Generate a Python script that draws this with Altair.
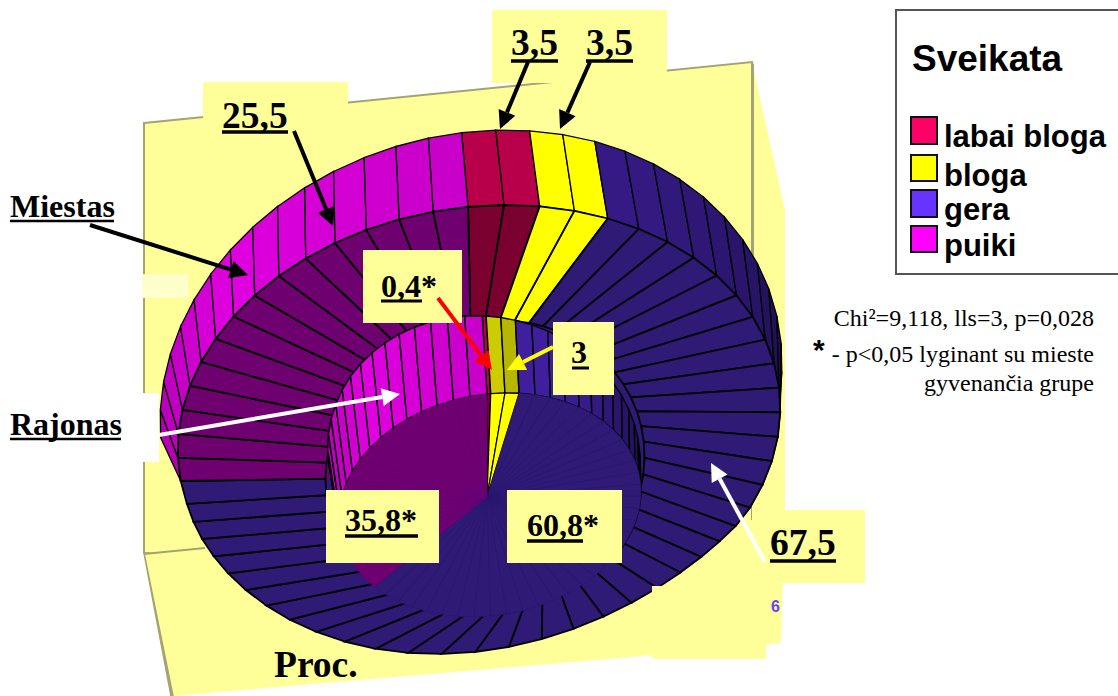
import numpy as np
import pandas as pd
import altair as alt

# Health ratings and their shares (percent) for the two residence groups
categories = ["labai bloga", "bloga", "gera", "puiki"]
city_values = [3.5, 3.5, 67.5, 25.5]
rural_values = [0.4, 3.0, 60.8, 35.8]
base_colors = ["#ff0066", "#ffff00", "#6633ff", "#ff00ff"]
floor_colors = ["#7a0030", "#ffff00", "#2f1a75", "#6f0070"]

STEP = 1.75  # percent covered by one facet of the ring


def ellipse(t, cx, cy, rx, ry, sx, sy=0.0):
    r = np.radians(t)
    return [float(cx + rx * np.sin(r) + sx * np.cos(r)),
            float(cy - ry * np.cos(r) + sy * np.sin(r))]


def rim(t):
    return ellipse(t, 471, 392, 309, 262, 35)


def floor_outer(t):
    # The upper half sits inside the rim; the lower half follows the rim outline
    upper = ellipse(t + 1.5 + 5 * np.sin(np.radians(t)), 479, 429, 300, 224, 28)
    lower = rim(t)
    w = float(np.clip((-np.cos(np.radians(t)) - 0.3) / 0.7, 0, 1))
    return [upper[0] * (1 - w) + lower[0] * w, upper[1] * (1 - w) + lower[1] * w]


def floor_inner(t):
    return ellipse(t - 3 - 9 * np.sin(np.radians(t)), 485, 468, 159, 148, 13)


def inner_rim(t):
    return ellipse(t, 484, 455, 155, 137, 20, 25)


def disk(t):
    return ellipse(t, 490, 505, 150, 112, 18)


def shade(hex_color, f):
    c = [int(hex_color[i:i + 2], 16) for i in (1, 3, 5)]
    return "#%02x%02x%02x" % tuple(min(255, int(v * f)) for v in c)


def facets(values, start):
    """Split each share into facets and return (category index, t0, t1)."""
    out = []
    t = start
    for i, v in enumerate(values):
        n = max(1, round(v / STEP))
        span = v * 3.6 / n
        for _ in range(n):
            out.append((i, t, t + span))
            t += span
    return out


def norm(t):
    return (t + 180) % 360 - 180


def poly(points, fill, stroke, width):
    ring = [list(p) for p in points] + [list(points[0])]
    return {
        "type": "Feature",
        "geometry": {"type": "Polygon", "coordinates": [ring]},
        "properties": {"fill": fill, "stroke": stroke, "sw": width},
    }


def wall_factor(i, t, inner=False):
    m = norm(t)
    if i == 3:
        return float(np.interp(m, [-105, -60, -20, 0], [0.68, 0.88, 0.8, 0.76]))
    if i == 0:
        return 0.72
    if i == 1:
        return 0.8 if inner else 1.0
    top = 0.62 if inner else 0.53
    return float(np.interp(m, [15, 50, 70, 95], [top, 0.42, 0.33, 0.28]))


panels = [
    poly([(144, 123), (752, 62), (752, 553), (144, 553)], "#ffff99", "#a3a373", 2),
    poly([(752, 62), (785, 210), (785, 510), (781, 643), (752, 553)], "#ffff99", "#ffff99", 0),
    poly([(144, 553), (752, 520), (781, 643), (620, 658), (173, 696)], "#ffff99", "#ffff99", 0),
]
panel_edges = [
    poly([(144, 553), (173, 696), (171, 696)], "#a3a373", "#a3a373", 1.5),
    poly([(752, 62), (752, 280), (754, 280), (754, 64)], "#a3a373", "#a3a373", 0),
    poly([(144, 553), (205, 547), (205, 549), (144, 555)], "#a3a373", "#a3a373", 0),
]

city = facets(city_values, -8.2)
rural = facets(rural_values, -8.0)
hub = (487, 497)

# Back wall of the outer ring, then its floor with the radial seams
outer_wall = []
for i, a, b in city:
    if -104 <= norm(a) <= 100:
        f = wall_factor(i, a)
        outer_wall.append(
            poly([rim(a), rim(b), floor_outer(b), floor_outer(a)],
                 shade(base_colors[i], f), "#000000", 1.3)
        )
floor_base = [
    poly([hub, floor_inner(a), floor_inner(b)], floor_colors[i], floor_colors[i], 1)
    for i, a, b in city
]
outer_floor = [
    poly([floor_inner(a), floor_inner(b), floor_outer(b), floor_outer(a)],
         floor_colors[i], "#000000", 1.8)
    for i, a, b in city
]

# Back wall of the inner ring
inner_wall = []
for i, a, b in rural:
    if -112 <= norm(a) <= 112:
        f = wall_factor(i, a, inner=True)
        if i == 1:
            f = 0.8 if a < -3 else 0.72
        inner_wall.append(
            poly([inner_rim(a), inner_rim(b), disk(b), disk(a)],
                 shade(base_colors[i], f), "#000000", 1.4)
        )

# Central disk of the inner ring, drawn as a fan around its hub
inner_disk = []
for i, a, b in rural:
    line = {0: "#000000", 1: "#000000", 2: "#2a1870", 3: "#64007a"}[i]
    width = 1.2 if i < 2 else 0.5
    inner_disk.append(poly([hub, disk(a), disk(b)], floor_colors[i], line, width))

features = (panels + panel_edges + outer_wall + floor_base + outer_floor
            + inner_wall + inner_disk)

scene = alt.Chart(alt.Data(values=features)).mark_geoshape().encode(
    fill=alt.Fill("properties.fill:N", scale=None),
    stroke=alt.Stroke("properties.stroke:N", scale=None),
    strokeWidth=alt.StrokeWidth("properties.sw:Q", scale=None),
).project(type="identity", scale=1, translate=[0, 0])

# Boxes behind the value labels
boxes = pd.DataFrame([
    (203, 348, 82, 155, "#ffff99"),
    (492, 667, 10, 83, "#ffff99"),
    (363, 462, 250, 323, "#ffff99"),
    (553, 614, 322, 395, "#ffff99"),
    (326, 439, 490, 563, "#ffff99"),
    (507, 622, 490, 563, "#ffff99"),
    (768, 865, 510, 583, "#ffff99"),
    (652, 766, 586, 659, "#ffff99"),
    (142, 188, 274, 298, "#ffffcc"),
    (0, 159, 393, 462, "#ffffff"),
], columns=["x", "x2", "y", "y2", "c"])
box_layer = alt.Chart(boxes).mark_rect().encode(
    x=alt.X("x:Q", scale=None), x2="x2:Q",
    y=alt.Y("y:Q", scale=None), y2="y2:Q",
    fill=alt.Fill("c:N", scale=None),
)


def arrow(x0, y0, x1, y1, color, width=4, head=18, half=9):
    d = np.array([x1 - x0, y1 - y0], dtype=float)
    d /= np.hypot(*d)
    n = np.array([-d[1], d[0]])
    tip = np.array([x1, y1], dtype=float)
    base = tip - d * head
    start = np.array([x0, y0], dtype=float)
    w = width / 2
    shaft = [start + n * w, base + n * w, base - n * w, start - n * w]
    h = [tip, base + n * half, base - n * half]
    return [
        poly([tuple(map(float, p)) for p in shaft], color, color, 0),
        poly([tuple(map(float, p)) for p in h], color, color, 0),
    ]


arrows = (
    arrow(294, 131, 333, 226, "#000000")
    + arrow(528, 62, 500, 129, "#000000")
    + arrow(590, 62, 560, 129, "#000000")
    + arrow(90, 225, 248, 275, "#000000")
    + arrow(159, 435, 400, 394, "#ffffff")
    + arrow(438, 298, 492, 370, "#ff0000")
    + arrow(553, 347, 507, 370, "#ffff00")
    + arrow(765, 562, 711, 463, "#ffffff")
)
arrow_layer = alt.Chart(alt.Data(values=arrows)).mark_geoshape(strokeWidth=0).encode(
    fill=alt.Fill("properties.fill:N", scale=None),
).project(type="identity", scale=1, translate=[0, 0])

# Underlined value and group labels
SERIF = "Liberation Serif"
SANS = "Liberation Sans"
texts = pd.DataFrame([
    ("25,5", 222, 128, 37.5, SERIF, "bold", "left", "#000000"),
    ("3,5", 511, 55, 37.5, SERIF, "bold", "left", "#000000"),
    ("3,5", 586, 55, 37.5, SERIF, "bold", "left", "#000000"),
    ("0,4", 381, 297, 32, SERIF, "bold", "left", "#000000"),
    ("*", 421, 297, 32, SERIF, "bold", "left", "#000000"),
    ("3", 571, 363, 32, SERIF, "bold", "left", "#000000"),
    ("35,8*", 345, 531, 32, SERIF, "bold", "left", "#000000"),
    ("60,8", 527, 536, 32, SERIF, "bold", "left", "#000000"),
    ("*", 583, 536, 32, SERIF, "bold", "left", "#000000"),
    ("67,5", 770, 555, 37.5, SERIF, "bold", "left", "#000000"),
    ("Miestas", 10, 217, 32, SERIF, "bold", "left", "#000000"),
    ("Rajonas", 10, 435, 32, SERIF, "bold", "left", "#000000"),
    ("Proc.", 274, 677, 37.5, SERIF, "bold", "left", "#000000"),
    ("6", 771, 612, 16, SANS, "bold", "left", "#6a40ff"),
    ("Sveikata", 912, 71, 37, SANS, "bold", "left", "#000000"),
    (categories[0], 944, 147, 31, SANS, "bold", "left", "#000000"),
    (categories[1], 944, 186, 31, SANS, "bold", "left", "#000000"),
    (categories[2], 944, 220, 31, SANS, "bold", "left", "#000000"),
    (categories[3], 944, 256, 31, SANS, "bold", "left", "#000000"),
    ("Chi²=9,118, lls=3, p=0,028", 1094, 326, 24, SERIF, "normal", "right", "#000000"),
    ("- p<0,05 lyginant su mieste", 1094, 362, 24, SERIF, "normal", "right", "#000000"),
    ("gyvenančia grupe", 1094, 391, 24, SERIF, "normal", "right", "#000000"),
    ("*", 813, 360, 30, SANS, "bold", "left", "#000000"),
], columns=["t", "x", "y", "size", "font", "weight", "align", "color"])

text_layers = []
for (font, weight, align), part in texts.groupby(["font", "weight", "align"]):
    text_layers.append(
        alt.Chart(part).mark_text(font=font, fontWeight=weight, align=align, baseline="alphabetic").encode(
            x=alt.X("x:Q", scale=None),
            y=alt.Y("y:Q", scale=None),
            text="t:N",
            size=alt.Size("size:Q", scale=None),
            color=alt.Color("color:N", scale=None),
        )
    )

underlines = pd.DataFrame([
    (222, 288, 132, 3.5), (511, 558, 61, 3.5), (586, 633, 61, 3.5),
    (381, 422, 301, 3), (572, 589, 368, 3), (345, 418, 536, 3.5),
    (527, 583, 541, 3.5), (770, 836, 561, 3.5),
    (10, 114, 221, 2.5), (10, 121, 439, 2.5),
], columns=["x", "x2", "y", "w"])
underline_layer = alt.Chart(underlines).mark_rule(color="#000000").encode(
    x=alt.X("x:Q", scale=None), x2="x2:Q",
    y=alt.Y("y:Q", scale=None),
    strokeWidth=alt.StrokeWidth("w:Q", scale=None),
)

# Legend frame and swatches
frame = pd.DataFrame([(896, 1130, 10, 274)], columns=["x", "x2", "y", "y2"])
frame_layer = alt.Chart(frame).mark_rect(fill="#ffffff", stroke="#555555", strokeWidth=2).encode(
    x=alt.X("x:Q", scale=None), x2="x2:Q",
    y=alt.Y("y:Q", scale=None), y2="y2:Q",
)
swatches = pd.DataFrame({
    "x": [911] * 4, "x2": [937] * 4,
    "y": [117, 155, 190, 226], "y2": [144, 181, 217, 252],
    "c": base_colors,
})
swatch_layer = alt.Chart(swatches).mark_rect(stroke="#111111", strokeWidth=2).encode(
    x=alt.X("x:Q", scale=None), x2="x2:Q",
    y=alt.Y("y:Q", scale=None), y2="y2:Q",
    fill=alt.Fill("c:N", scale=None),
)

chart = alt.layer(
    scene, box_layer, arrow_layer, underline_layer, frame_layer, swatch_layer, *text_layers
).properties(
    width=1118, height=696, padding=0, autosize=alt.AutoSizeParams(type="none"),
    background="#ffffff",
).configure_view(stroke=None)

chart.save("out.html", embed_options={"renderer": "svg", "actions": False})
